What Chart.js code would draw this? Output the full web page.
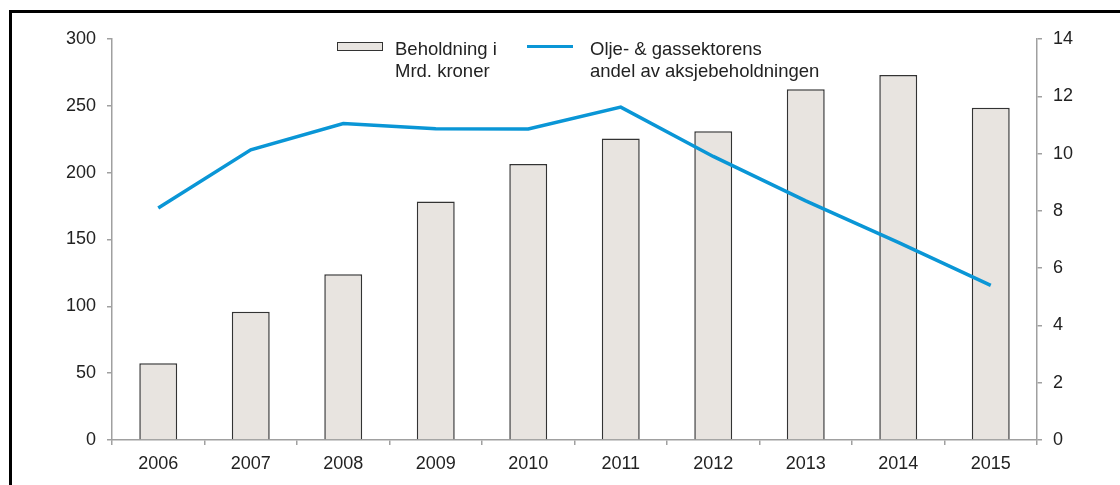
<!DOCTYPE html>
<html>
<head>
<meta charset="utf-8">
<script src="https://cdn.jsdelivr.net/npm/chart.js@4"></script>
<style>
  html, body { margin: 0; padding: 0; background: #fff; }
  #wrap { position: relative; width: 1120px; height: 485px; overflow: hidden; font-family: "Liberation Sans", Arial, sans-serif; }
  #frame { position: absolute; left: 9px; top: 10px; width: 1200px; height: 600px; border-left: 3px solid #000; border-top: 3px solid #000; pointer-events: none; }
  .leg { position: absolute; font-size: 18.5px; line-height: 22px; color: #222; }
  .box { position: absolute; left: 337px; top: 42px; width: 44px; height: 7px; background: #e8e4e0; border: 1.5px solid #333; }
  .ln { position: absolute; left: 527px; top: 45px; width: 46px; height: 3px; background: #0a96d6; }
</style>
</head>
<body>
<div id="wrap">
  <canvas id="c" width="1120" height="485"></canvas>
  <div class="box"></div>
  <div class="leg" style="left:395px; top:38px;">Beholdning i<br>Mrd. kroner</div>
  <div class="ln"></div>
  <div class="leg" style="left:590px; top:38px;">Olje- &amp; gassektorens<br>andel av aksjebeholdningen</div>
  <div id="frame"></div>
</div>
<script>
const categories = ["2006","2007","2008","2009","2010","2011","2012","2013","2014","2015"];
const holdings = [57.5, 96, 124, 178.5, 206.5, 225.5, 231, 262.5, 273, 248.5];
const oilGasShare = [8.1, 10.13, 11.05, 10.87, 10.86, 11.62, 9.9, 8.35, 6.9, 5.4];
const leftTicks = [0, 50, 100, 150, 200, 250, 300];
const rightTicks = [0, 2, 4, 6, 8, 10, 12, 14];

const axisColor = '#a0a0a0';
const textColor = '#222';
Chart.defaults.font.family = '"Liberation Sans", Arial, sans-serif';
Chart.defaults.font.size = 18;
Chart.defaults.color = textColor;

new Chart(document.getElementById('c'), {
  data: {
    labels: categories,
    datasets: [
      {
        type: 'line', label: 'Olje- & gassektorens andel av aksjebeholdningen',
        data: oilGasShare, yAxisID: 'y2',
        borderColor: '#0a96d6', borderWidth: 3.5, pointRadius: 0, tension: 0, order: 0
      },
      {
        type: 'bar', label: 'Beholdning i Mrd. kroner',
        data: holdings, yAxisID: 'y',
        backgroundColor: '#e8e4e0', borderColor: '#333', borderWidth: 1.5,
        categoryPercentage: 1, barPercentage: 0.41, order: 1
      }
    ]
  },
  options: {
    responsive: false, animation: false,
    layout: { padding: { top: 39, left: 0, right: 0, bottom: 0 } },
    plugins: { legend: { display: false }, tooltip: { enabled: false } },
    scales: {
      x: {
        offset: true,
        grid: { offset: true, drawOnChartArea: false, drawTicks: true, tickLength: 5, color: axisColor, lineWidth: 1.5 },
        border: { color: axisColor, width: 1.5 },
        ticks: { padding: 8, color: textColor, maxRotation: 0 },
        afterFit: s => { s.height = 45; }
      },
      y: {
        position: 'left', min: 0, max: 300,
        afterBuildTicks: s => { s.ticks = leftTicks.map(v => ({ value: v })); },
        grid: { drawOnChartArea: false, drawTicks: true, tickLength: 5, color: axisColor, lineWidth: 1.5 },
        border: { color: axisColor, width: 1.5 },
        ticks: { padding: 11, color: textColor },
        afterFit: s => { s.width = 112; }
      },
      y2: {
        position: 'right', min: 0, max: 14,
        afterBuildTicks: s => { s.ticks = rightTicks.map(v => ({ value: v })); },
        grid: { drawOnChartArea: false, drawTicks: true, tickLength: 5, color: axisColor, lineWidth: 1.5 },
        border: { color: axisColor, width: 1.5 },
        ticks: { padding: 11, color: textColor },
        afterFit: s => { s.width = 83; }
      }
    }
  }
});
</script>
</body>
</html>
